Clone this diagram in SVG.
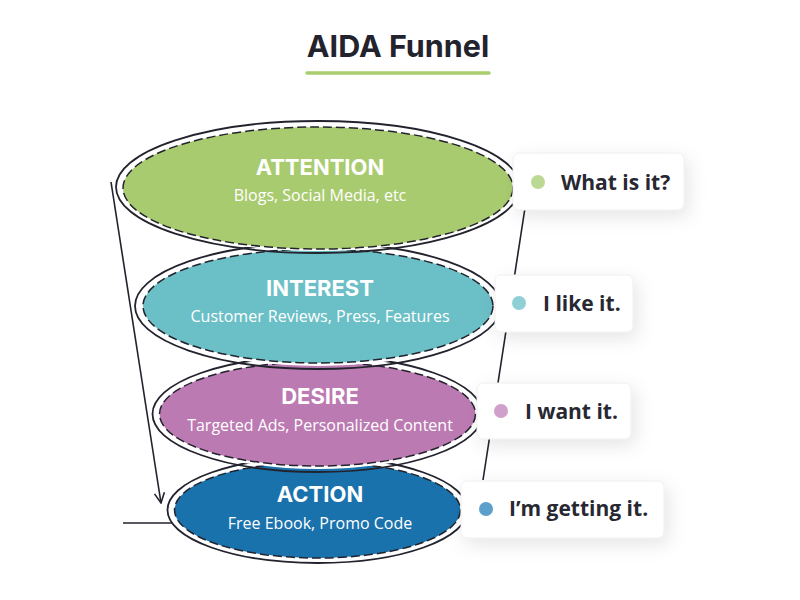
<svg xmlns="http://www.w3.org/2000/svg" width="800" height="600" viewBox="0 0 800 600">
<defs>
<style>
.outer{fill:none;stroke:#23232e;stroke-width:1.8}
.gap{fill:#ffffff}
.dash{stroke:#23232e;stroke-width:1.5;stroke-dasharray:9 4}
.lbl{font-family:Inter,"Liberation Sans",sans-serif;font-weight:700;font-size:22px;fill:#ffffff;text-anchor:middle}
.sub{font-family:"Open Sans","Liberation Sans",sans-serif;font-size:16px;fill:#ffffff;text-anchor:middle}
.con{fill:none;stroke:#23232e;stroke-width:1.6}
.box{fill:#ffffff;stroke:#eeeeee;stroke-width:1}
.ct{font-family:"Open Sans","Liberation Sans",sans-serif;font-weight:700;font-size:21px;fill:#272832}
</style>
<filter id="sh" x="-30%" y="-50%" width="160%" height="220%">
<feDropShadow dx="4" dy="6" stdDeviation="9" flood-color="#000" flood-opacity="0.10"/>
</filter>
<marker id="arr" viewBox="0 0 12 12" refX="11" refY="6" markerWidth="12" markerHeight="12" markerUnits="userSpaceOnUse" orient="auto">
<path d="M1,1 L11,6 L1,11" fill="none" stroke="#23232e" stroke-width="1.6"/>
</marker>
</defs>
<rect width="800" height="600" fill="#ffffff"/>
<g id="title">
<text x="398" y="57" font-family="Inter,'Liberation Sans',sans-serif" font-weight="700" font-size="30.5" fill="#23232e" text-anchor="middle">AIDA Funnel</text>
<line x1="307" y1="73" x2="489" y2="73" stroke="#a9cd6e" stroke-width="3.5" stroke-linecap="round"/>
</g>
<g id="action">
<ellipse class="outer" cx="317.5" cy="510" rx="150" ry="53"/>
<ellipse class="gap" cx="317.5" cy="510" rx="146" ry="50.5"/>
<ellipse class="dash" cx="317.5" cy="510" rx="143" ry="48" fill="#1a72ad"/>
<text class="lbl" x="320" y="502">ACTION</text>
<text class="sub" x="320" y="529">Free Ebook, Promo Code</text>
</g>
<g id="desire">
<ellipse class="outer" cx="317.5" cy="414" rx="165" ry="58"/>
<ellipse class="gap" cx="317.5" cy="414" rx="161" ry="55"/>
<ellipse class="dash" cx="317.5" cy="414" rx="158" ry="52" fill="#bc7ab2"/>
<text class="lbl" x="320" y="404">DESIRE</text>
<text class="sub" x="320" y="431">Targeted Ads, Personalized Content</text>
</g>
<g id="interest">
<ellipse class="outer" cx="318" cy="306" rx="183" ry="63"/>
<ellipse class="gap" cx="318" cy="306" rx="179" ry="60"/>
<ellipse class="dash" cx="318" cy="306" rx="175" ry="57" fill="#6bbfc6"/>
<text class="lbl" x="320" y="296">INTEREST</text>
<text class="sub" x="320" y="322">Customer Reviews, Press, Features</text>
</g>
<g id="attention">
<ellipse class="outer" cx="318" cy="187" rx="202" ry="66"/>
<ellipse class="gap" cx="318" cy="187.5" rx="198.5" ry="63.5"/>
<ellipse class="dash" cx="318" cy="188" rx="195" ry="61" fill="#a9cb6f"/>
<text class="lbl" x="320" y="175">ATTENTION</text>
<text class="sub" x="320" y="201">Blogs, Social Media, etc</text>
</g>
<g id="connectors">
<line class="con" x1="111" y1="182" x2="161" y2="503" marker-end="url(#arr)"/>
<line class="con" x1="529" y1="182" x2="483" y2="480"/>
<line class="con" x1="123" y1="523" x2="172" y2="523"/>
</g>
<g id="callout-attention">
<rect class="box" x="513" y="153" width="171" height="57" rx="6" filter="url(#sh)"/>
<circle cx="538" cy="182" r="7" fill="#bcd993"/>
<text class="ct" x="561" y="190">What is it?</text>
</g>
<g id="callout-interest">
<rect class="box" x="495" y="275" width="138" height="57" rx="6" filter="url(#sh)"/>
<circle cx="519" cy="303" r="7" fill="#8fd0d6"/>
<text class="ct" x="543" y="311">I like it.</text>
</g>
<g id="callout-desire">
<rect class="box" x="477" y="383" width="154" height="56" rx="6" filter="url(#sh)"/>
<circle cx="501" cy="411" r="7" fill="#d0a0ca"/>
<text class="ct" x="525" y="419">I want it.</text>
</g>
<g id="callout-action">
<rect class="box" x="461" y="481" width="203" height="57" rx="6" filter="url(#sh)"/>
<circle cx="486" cy="509" r="7" fill="#5c9fcb"/>
<text class="ct" x="509" y="516">I’m getting it.</text>
</g>
</svg>
